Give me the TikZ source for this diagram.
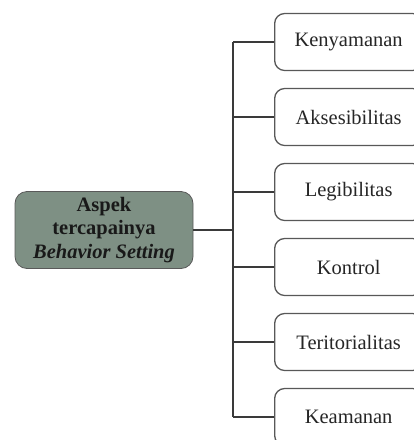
\documentclass[tikz,border=0pt]{standalone}
\usepackage{fontspec}
\setmainfont{Liberation Serif}
\usetikzlibrary{calc}

\definecolor{hubgreen}{HTML}{7E9084}
\definecolor{linegray}{HTML}{3A3A3A}

\tikzset{
  aspectbox/.style={draw=linegray!85, line width=1.3pt, rounded corners=10pt,
    fill=white, minimum width=148pt, minimum height=57pt, anchor=west,
    inner sep=0pt, text=black!85, font=\fontsize{20.5}{24}\selectfont},
  hubbox/.style={draw=gray!70!black, line width=0.8pt, rounded corners=12pt,
    fill=hubgreen, minimum width=178pt, minimum height=77pt, align=center,
    inner sep=0pt, text=black!90, font=\fontsize{20.5}{23.5}\selectfont\bfseries},
  link/.style={line width=1.6pt, linegray}
}

\begin{document}
\begin{tikzpicture}[x=1pt, y=-1pt]
  \useasboundingbox (0,0) rectangle (414,440);

  % ── Central aspect box ─────────────────────────────────────────────
  \node[hubbox] (hub) at (104,230)
    {Aspek\\tercapainya\\\textit{Behavior Setting}};

  % ── Aspect boxes on the right ──────────────────────────────────────
  \foreach \name/\txt [count=\i] in {kenyamanan/Kenyamanan,
      aksesibilitas/Aksesibilitas, legibilitas/Legibilitas,
      kontrol/Kontrol, teritorialitas/Teritorialitas, keamanan/Keamanan} {
    \node[aspectbox] (\name) at (274,{42+75*(\i-1)}) {\txt};
  }

  % ── Bus line and branches ──────────────────────────────────────────
  \coordinate (bustop) at ($(kenyamanan.west)+(-41,0)$);
  \coordinate (busbot) at ($(keamanan.west)+(-41,0)$);
  \draw[link] (bustop) -- (busbot);
  \foreach \name in {kenyamanan,aksesibilitas,legibilitas,kontrol,
      teritorialitas,keamanan} {
    \draw[link] (\name.west -| bustop) -- (\name.west);
  }
  \draw[link] (hub.east) -- (hub.east -| bustop);

\end{tikzpicture}
\end{document}
